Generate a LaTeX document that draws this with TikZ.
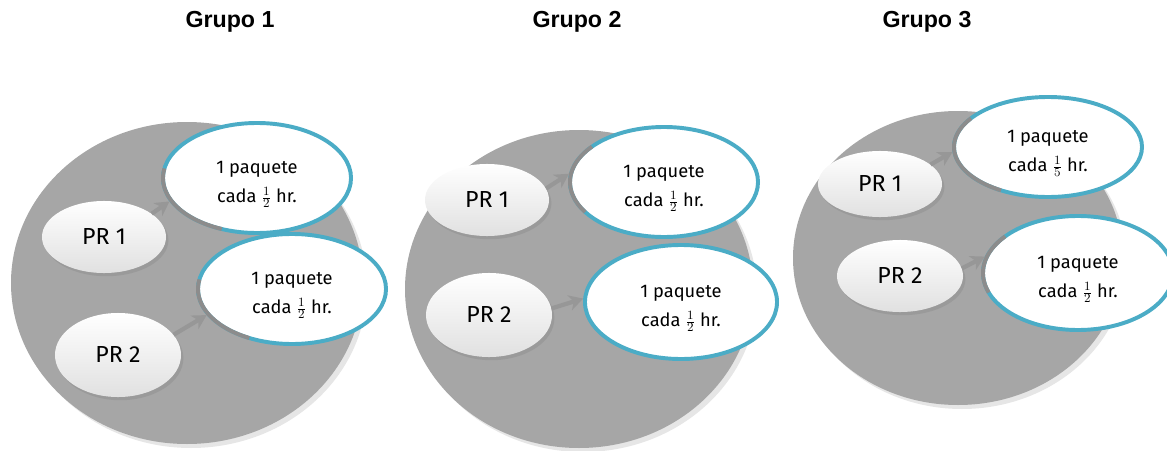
\documentclass[tikz,border=0pt]{standalone}
\usepackage{fontspec}
\setmainfont{Fira Sans}
\newfontfamily\titulofont{Liberation Sans}
\usepackage{tikz}
\usetikzlibrary{shapes.geometric,arrows.meta,shadows}
\definecolor{circgris}{HTML}{A6A6A6}
\definecolor{paqazul}{HTML}{4BACC6}
\definecolor{flechagris}{HTML}{8C8C8C}
\tikzset{x=0.025cm, y=0.025cm,
  titulo/.style={font=\titulofont\bfseries\fontsize{16.5}{19}\selectfont},
  grupo/.style={fill=circgris, drop shadow={opacity=0.2, shadow xshift=1mm, shadow yshift=-1mm}},
  pr/.style={ellipse, inner sep=0pt, minimum width=3.1cm, minimum height=1.8cm, top color=white, bottom color=black!12, drop shadow={opacity=0.3, shadow xshift=0.6mm, shadow yshift=-0.8mm}, font=\fontsize{16.5}{19}\selectfont},
  paq/.style={ellipse, draw=paqazul, line width=2.8pt, fill=white, inner sep=0pt, minimum width=4.7cm, minimum height=2.75cm, align=center, font=\fontsize{13}{20.5}\selectfont},
  paqsombra/.style={draw=flechagris, line width=2.8pt},
  flecha/.style={-{Stealth[length=10pt,width=11pt,inset=3pt]}, draw=flechagris!90, line width=3pt}}
\newcommand{\prnodo}[3]{node[pr,#2](#1) {#3}}
\newcommand{\paqnodo}[3]{node[paq,#2](#1) {#3}}
\newcommand{\cada}[1]{\rule{0pt}{18pt}1 paquete\\cada $\frac{1}{#1}$ hr.}
\newcommand{\sombra}[5]{\draw[paqsombra] (#1.center) ++(#2:#4 and #5) arc[start angle=#2, end angle=#3, x radius=#4, y radius=#5];}

\begin{document}
\begin{tikzpicture}
\useasboundingbox (0,0) rectangle (1167,450);
% titulos
\draw (230,428) node[titulo](t1) {Grupo 1} ;
  \draw (577,428) node[titulo](t2) {Grupo 2} ;
    \draw (927,428) node[titulo](t3) {Grupo 3} ;
% circulos de fondo
\fill[grupo] (187,167) ellipse (176 and 161) ;
  \fill[grupo] (579,161) ellipse (174 and 159) ;
    \fill[grupo] (958,192) ellipse (165 and 147) ;
% grupo 1
\draw (104,213) \prnodo{pr11}{}{PR 1} ;
  \draw (118,95) \prnodo{pr12}{minimum width=3.15cm, minimum height=2.1cm}{PR 2} ;
    \draw (257,272) \paqnodo{paq11}{}{\cada{2}} ;
      \draw (292,161) \paqnodo{paq12}{}{\cada{2}} ;
% grupo 2
\draw (487,250) \prnodo{pr21}{}{PR 1} ;
  \draw (489,135) \prnodo{pr22}{minimum width=3.15cm, minimum height=2.1cm}{PR 2} ;
    \draw (664,268) \paqnodo{paq21}{}{\cada{2}} ;
      \draw (681,148) \paqnodo{paq22}{minimum width=4.8cm, minimum height=2.85cm}{\cada{2}} ;
% grupo 3
\draw (880,266) \prnodo{pr31}{minimum height=1.65cm}{PR 1} ;
  \draw (900,174) \prnodo{pr32}{minimum width=3.15cm}{PR 2} ;
    \draw (1048,303) \paqnodo{paq31}{minimum height=2.5cm}{\cada{5}} ;
      \draw (1078,177) \paqnodo{paq32}{minimum width=4.75cm, minimum height=2.85cm}{\cada{2}} ;
% bordes en sombra
\sombra{paq11}{170}{248}{2.35cm}{1.375cm}
\sombra{paq12}{170}{243}{2.35cm}{1.375cm}
\sombra{paq21}{140}{213}{2.35cm}{1.375cm}
\sombra{paq31}{145}{240}{2.35cm}{1.25cm}
\sombra{paq32}{140}{200}{2.375cm}{1.425cm}
% flechas
\draw[flecha] (pr11.26) -- (paq11.195) ;
\draw[flecha] (pr12.20) -- (paq12.197) ;
\draw[flecha] (pr21.11) -- (paq21.175) ;
\draw[flecha] (pr22.6) -- (paq22.178) ;
\draw[flecha] (pr31.21) -- (paq31.183) ;
\draw[flecha] (pr32.7) -- (paq32.170) ;
\end{tikzpicture}
\end{document}
